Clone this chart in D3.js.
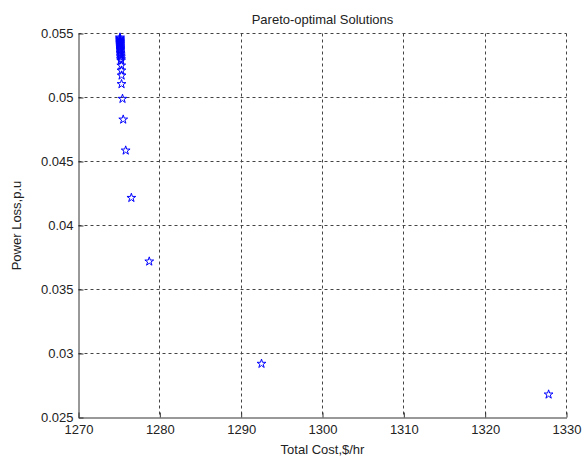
<!DOCTYPE html>
<html>
<head>
<meta charset="utf-8">
<script src="https://cdn.jsdelivr.net/npm/d3@7"></script>
<style>
  body { margin: 0; background: #fff; }
  text { font-family: "Liberation Sans", Arial, sans-serif; fill: #222; }
</style>
</head>
<body>
<div id="chart"></div>
<script>
// Pareto front
const totalCost = [
  1275.10, 1275.10, 1275.11, 1275.11, 1275.12, 1275.12, 1275.12, 1275.13,
  1275.13, 1275.14, 1275.14, 1275.15, 1275.15, 1275.16, 1275.17, 1275.18,
  1275.19, 1275.20, 1275.21, 1275.22, 1275.24, 1275.26, 1275.28, 1275.30,
  1275.29, 1275.41, 1275.50, 1275.80, 1276.50, 1278.70, 1292.50, 1327.80
];
const powerLoss = [
  0.05469, 0.05462, 0.05455, 0.05448, 0.05441, 0.05434, 0.05427, 0.05420,
  0.05413, 0.05405, 0.05397, 0.05389, 0.05380, 0.05371, 0.05361, 0.05350,
  0.05339, 0.05327, 0.05315, 0.05300, 0.05289, 0.05250, 0.05211, 0.05172,
  0.05105, 0.04990, 0.04828, 0.04586, 0.04216, 0.03719, 0.02920, 0.02680
];
const xTicks = [1270, 1280, 1290, 1300, 1310, 1320, 1330];
const yTicks = [0.025, 0.03, 0.035, 0.04, 0.045, 0.05, 0.055];

const margin = {top: 33, right: 21, bottom: 42, left: 78},
    width = 587 - margin.left - margin.right,
    height = 459 - margin.top - margin.bottom;

const svg = d3.select("#chart")
  .append("svg")
    .attr("width", 587)
    .attr("height", 459)
  .append("g")
    .attr("transform", `translate(${margin.left + 0.5},${margin.top + 0.5})`);

const x = d3.scaleLinear().domain([1270, 1330]).range([0, width]);
const y = d3.scaleLinear().domain([0.025, 0.055]).range([height, 0]);

// dotted grid
svg.append("g")
  .selectAll("line")
  .data(xTicks.slice(1))
  .enter().append("line")
    .attr("x1", d => Math.round(x(d))).attr("x2", d => Math.round(x(d)))
    .attr("y1", 0).attr("y2", height)
    .attr("stroke", "#444")
    .attr("stroke-dasharray", "3,3");
svg.append("g")
  .selectAll("line")
  .data(yTicks.slice(1))
  .enter().append("line")
    .attr("y1", d => Math.round(y(d))).attr("y2", d => Math.round(y(d)))
    .attr("x1", 0).attr("x2", width)
    .attr("stroke", "#444")
    .attr("stroke-dasharray", "3,3");

// axes, ticks pointing inward
const xAxis = svg.append("g")
  .attr("transform", `translate(0,${height})`)
  .call(d3.axisBottom(x).tickValues(xTicks).tickFormat(d3.format("d"))
    .tickSizeInner(-5).tickSizeOuter(0).tickPadding(7));
const yAxis = svg.append("g")
  .call(d3.axisLeft(y).tickValues(yTicks).tickFormat(d => String(+d.toFixed(3)))
    .tickSizeInner(-5).tickSizeOuter(0).tickPadding(5));
[xAxis, yAxis].forEach(a => {
  a.selectAll("text").style("font-size", "13px").attr("fill", "#222");
  a.selectAll("line").attr("stroke", "#333");
  a.select(".domain").attr("stroke", "#333");
});

// stars
const star = d3.symbol().type(d3.symbolStar).size(24);
svg.append("g")
  .selectAll("path")
  .data(totalCost.map((c, i) => ({ cost: c, loss: powerLoss[i] })))
  .enter().append("path")
    .attr("d", star)
    .attr("transform", d => `translate(${x(d.cost)},${y(d.loss)})`)
    .attr("fill", "none")
    .attr("stroke", "#0000ff")
    .attr("stroke-width", 1);

// labels
svg.append("text")
  .attr("x", width / 2)
  .attr("y", -10)
  .attr("text-anchor", "middle")
  .style("font-size", "13px")
  .text("Pareto-optimal Solutions");

svg.append("text")
  .attr("x", width / 2)
  .attr("y", height + 36)
  .attr("text-anchor", "middle")
  .style("font-size", "13px")
  .text("Total Cost,$/hr");

svg.append("text")
  .attr("transform", "rotate(-90)")
  .attr("x", -height / 2)
  .attr("y", -58)
  .attr("text-anchor", "middle")
  .style("font-size", "13px")
  .text("Power Loss,p.u");
</script>
</body>
</html>
